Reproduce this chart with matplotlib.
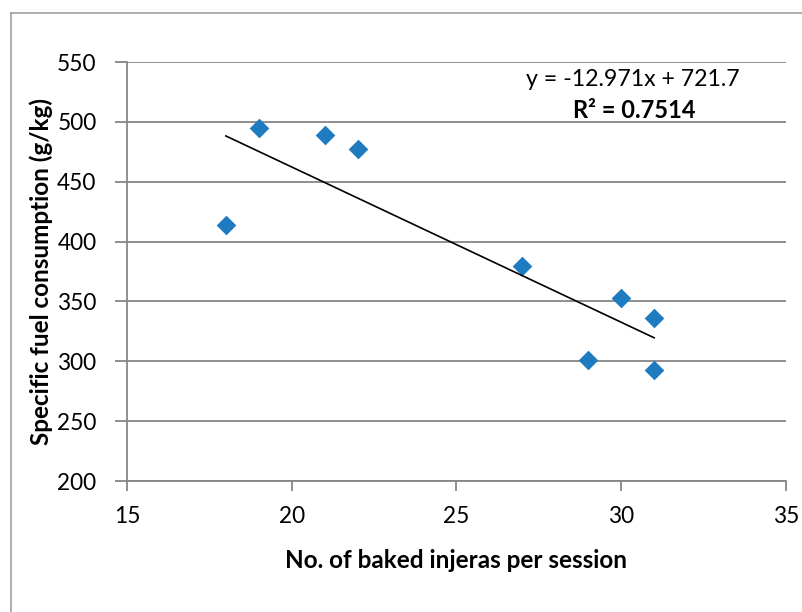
import matplotlib
matplotlib.use("Agg")
import matplotlib.pyplot as plt
import numpy as np
from matplotlib.lines import Line2D

plt.rcParams['font.family'] = ['Lato', 'DejaVu Sans']

injeras = [18, 19, 21, 22, 27, 29, 30, 31, 31]
fuel = [414, 495, 489, 477, 380, 301, 353, 336, 293]
x_ticks = [15, 20, 25, 30, 35]
y_ticks = [200, 250, 300, 350, 400, 450, 500, 550]
eq_text = "y = -12.971x + 721.7"
r2_text = "R² = 0.7514"

W, H = 803, 612
fig = plt.figure(figsize=(W/100, H/100), dpi=100)
ax = fig.add_axes([127/W, (H-481)/H, (786-127)/W, (481-62)/H])

gray = '#868686'
ax.set_xlim(15, 35)
ax.set_ylim(200, 550)
ax.set_xticks(x_ticks)
ax.set_yticks(y_ticks)
ax.grid(axis='y', color=gray, lw=1.3)
ax.set_axisbelow(True)
for s in ['top', 'right']:
    ax.spines[s].set_visible(False)
for s in ['left', 'bottom']:
    ax.spines[s].set_color(gray)
    ax.spines[s].set_linewidth(1.3)
ax.tick_params(axis='both', colors=gray, width=1.3, length=7, labelsize=16.3, labelcolor='black')
ax.tick_params(axis='y', length=9, pad=13)
ax.tick_params(axis='x', pad=11)

ax.scatter(injeras, fuel, marker='D', s=100, color='#1F7BC0', zorder=3, linewidths=0)

xs = np.array(injeras, dtype=float)
m, b = np.polyfit(xs, np.array(fuel, dtype=float), 1)
xl = np.array([xs.min(), xs.max()])
ax.plot(xl, m*xl + b, color='black', lw=1.2, zorder=4)

ax.text(633/W, (H-80)/H, eq_text, transform=fig.transFigure, ha='center', va='center', fontsize=16.7)
ax.text(634/W, (H-111)/H, r2_text, transform=fig.transFigure, ha='center', va='center', fontsize=17, fontweight='bold')

ax.set_xlabel("No. of baked injeras per session", fontsize=17.5, fontweight='bold', labelpad=16)
ax.set_ylabel("Specific fuel consumption (g/kg)", fontsize=17.5, fontweight='bold', labelpad=3)

fig.add_artist(Line2D([11/W, 11/W], [0, (H-13)/H], transform=fig.transFigure, color='#A0A0A0', lw=1.2))
fig.add_artist(Line2D([11/W, 1], [(H-13)/H, (H-13)/H], transform=fig.transFigure, color='#A0A0A0', lw=1.2))

fig.savefig("out.png", dpi=100)
